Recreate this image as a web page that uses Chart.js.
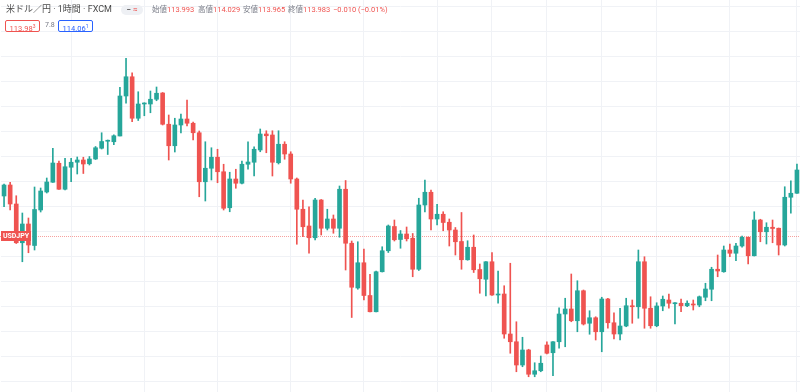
<!DOCTYPE html>
<html lang="ja">
<head>
<meta charset="utf-8">
<title>USDJPY 1H</title>
<script src="https://cdn.jsdelivr.net/npm/chart.js@4.4.1/dist/chart.umd.min.js"></script>
<style>
  html, body { margin: 0; padding: 0; background: #fff; }
  #wrap { position: relative; width: 800px; height: 392px; overflow: hidden;
          font-family: Roboto, "Noto Sans CJK JP", sans-serif; }
  #chart { position: absolute; left: 0; top: 0; }
  .ov { position: absolute; white-space: nowrap; line-height: 1; }
  .title { left: 6px; top: 5px; font-size: 9px; color: #4a4a4a; }
  .pill { left: 121px; top: 5px; width: 22px; height: 10px; border-radius: 5px;
          background: #eef0f4; font-size: 8px; text-align: center; line-height: 10px; }
  .pill .a { color: #555; font-weight: bold; }
  .pill .b { color: #ef5350; margin-left: 2px; }
  .ohlc { top: 6px; font-size: 7.5px; color: #787b86; }
  .ohlc b { font-weight: normal; color: #ef5350; }
  .box { top: 20px; height: 10px; width: 33px; border: 1px solid; border-radius: 2px;
         font-size: 7.5px; line-height: 10px; text-align: center; background: #fff; }
  .box sup { font-size: 5px; vertical-align: 3px; }
  .sell { left: 5px; color: #ef5350; border-color: #ef5350; }
  .buy { left: 58px; color: #2962ff; border-color: #2962ff; }
  .spread { left: 45px; top: 22px; font-size: 7px; color: #787b86; }
</style>
</head>
<body>
<div id="wrap">
  <canvas id="chart" width="800" height="392"></canvas>
  <div class="ov title">米ドル／円 · 1時間 · FXCM</div>
  <div class="ov pill"><span class="a">−</span><span class="b">≈</span></div>
  <div class="ov ohlc" style="left:152px">始値<b>113.993</b></div>
  <div class="ov ohlc" style="left:198px">高値<b>114.029</b></div>
  <div class="ov ohlc" style="left:243px">安値<b>113.965</b></div>
  <div class="ov ohlc" style="left:288px">終値<b>113.983</b></div>
  <div class="ov ohlc" style="left:333px"><b>−0.010 (−0.01%)</b></div>
  <div class="ov box sell">113.98<sup>3</sup></div>
  <div class="ov spread">7.8</div>
  <div class="ov box buy">114.06<sup>1</sup></div>
</div>
<script>
// hourly candles, USDJPY (FXCM)
const opens = [
  114.142, 114.186, 114.110, 113.955, 114.030, 113.944, 114.086, 114.158, 114.197, 114.273,
  114.169, 114.257, 114.277, 114.286, 114.271, 114.290, 114.333, 114.361, 114.359, 114.382,
  114.542, 114.619, 114.453, 114.510, 114.510, 114.529, 114.554, 114.429, 114.343, 114.426,
  114.450, 114.433, 114.395, 114.199, 114.253, 114.297, 114.239, 114.095, 114.210, 114.193,
  114.269, 114.277, 114.326, 114.390, 114.386, 114.275, 114.349, 114.310, 114.210, 114.089,
  114.022, 113.975, 114.126, 114.013, 114.050, 114.013, 114.169, 113.953, 113.774, 113.875,
  113.744, 113.679, 113.839, 113.923, 114.020, 113.968, 113.990, 113.973, 113.849, 114.106,
  114.157, 114.050, 114.069, 114.037, 114.006, 113.960, 113.887, 113.937, 113.848, 113.809,
  113.879, 113.746, 113.750, 113.590, 113.559, 113.466, 113.526, 113.429, 113.443, 113.546,
  113.515, 113.559, 113.670, 113.690, 113.643, 113.763, 113.633, 113.655, 113.599, 113.730,
  113.635, 113.590, 113.622, 113.703, 113.699, 113.879, 113.693, 113.623, 113.702, 113.726,
  113.711, 113.713, 113.703, 113.710, 113.706, 113.737, 113.769, 113.849, 113.839, 113.926,
  113.913, 113.942, 113.977, 113.903, 114.046, 113.999, 114.017, 114.013, 113.946, 114.137,
  114.153
];
const highs = [
  114.190, 114.197, 114.143, 114.074, 114.054, 114.178, 114.174, 114.214, 114.333, 114.282,
  114.293, 114.293, 114.298, 114.297, 114.300, 114.340, 114.395, 114.366, 114.387, 114.577,
  114.693, 114.635, 114.559, 114.515, 114.562, 114.578, 114.556, 114.466, 114.453, 114.470,
  114.526, 114.438, 114.402, 114.359, 114.335, 114.329, 114.269, 114.237, 114.249, 114.282,
  114.359, 114.339, 114.410, 114.403, 114.403, 114.403, 114.359, 114.319, 114.214, 114.126,
  114.099, 114.133, 114.128, 114.089, 114.066, 114.182, 114.204, 113.962, 113.959, 113.930,
  113.829, 113.842, 113.939, 114.026, 114.046, 114.004, 114.018, 113.992, 114.133, 114.206,
  114.166, 114.109, 114.079, 114.050, 114.016, 114.076, 113.963, 113.986, 113.870, 113.880,
  113.916, 113.842, 113.783, 113.873, 113.639, 113.577, 113.529, 113.475, 113.502, 113.559,
  113.560, 113.695, 113.733, 113.830, 113.803, 113.766, 113.683, 113.659, 113.737, 113.733,
  113.675, 113.693, 113.733, 113.726, 113.926, 113.899, 113.739, 113.715, 113.742, 113.750,
  113.716, 113.730, 113.723, 113.726, 113.742, 113.793, 113.857, 113.906, 113.942, 113.950,
  113.953, 113.982, 113.978, 114.079, 114.049, 114.035, 114.046, 114.014, 114.179, 114.203,
  114.270
];
const lows = [
  114.099, 114.086, 113.952, 113.879, 113.915, 113.926, 114.078, 114.154, 114.196, 114.168,
  114.166, 114.199, 114.230, 114.232, 114.266, 114.288, 114.330, 114.308, 114.347, 114.382,
  114.513, 114.439, 114.444, 114.463, 114.475, 114.523, 114.426, 114.286, 114.318, 114.394,
  114.422, 114.366, 114.139, 114.122, 114.206, 114.195, 114.086, 114.079, 114.173, 114.190,
  114.249, 114.222, 114.319, 114.315, 114.222, 114.270, 114.289, 114.193, 113.949, 113.979,
  113.913, 113.966, 113.986, 114.006, 113.993, 113.977, 113.846, 113.656, 113.769, 113.726,
  113.678, 113.678, 113.838, 113.916, 113.962, 113.933, 113.962, 113.819, 113.844, 114.078,
  114.006, 114.026, 114.003, 113.942, 113.906, 113.849, 113.885, 113.836, 113.753, 113.742,
  113.744, 113.713, 113.573, 113.513, 113.439, 113.459, 113.419, 113.419, 113.439, 113.510,
  113.423, 113.533, 113.539, 113.639, 113.599, 113.626, 113.589, 113.566, 113.519, 113.613,
  113.570, 113.566, 113.619, 113.633, 113.653, 113.613, 113.613, 113.619, 113.683, 113.693,
  113.630, 113.679, 113.699, 113.686, 113.699, 113.723, 113.723, 113.819, 113.837, 113.899,
  113.883, 113.937, 113.870, 113.902, 113.959, 113.950, 113.955, 113.906, 113.942, 114.073,
  114.152
];
const closes = [
  114.186, 114.110, 113.955, 114.030, 113.946, 114.088, 114.162, 114.198, 114.274, 114.169,
  114.259, 114.277, 114.286, 114.270, 114.290, 114.335, 114.360, 114.363, 114.383, 114.542,
  114.619, 114.453, 114.510, 114.514, 114.529, 114.553, 114.429, 114.343, 114.426, 114.450,
  114.433, 114.395, 114.199, 114.253, 114.297, 114.239, 114.093, 114.210, 114.193, 114.269,
  114.278, 114.329, 114.390, 114.383, 114.277, 114.349, 114.310, 114.210, 114.089, 114.019,
  113.975, 114.126, 114.013, 114.050, 114.013, 114.169, 113.953, 113.777, 113.875, 113.744,
  113.679, 113.839, 113.923, 114.022, 113.967, 113.990, 113.971, 113.849, 114.106, 114.157,
  114.050, 114.069, 114.036, 114.006, 113.959, 113.887, 113.937, 113.847, 113.811, 113.879,
  113.746, 113.750, 113.590, 113.559, 113.466, 113.526, 113.429, 113.443, 113.473, 113.513,
  113.559, 113.670, 113.690, 113.643, 113.763, 113.630, 113.655, 113.599, 113.730, 113.635,
  113.590, 113.622, 113.703, 113.699, 113.879, 113.693, 113.623, 113.702, 113.729, 113.713,
  113.715, 113.703, 113.713, 113.706, 113.739, 113.770, 113.849, 113.842, 113.926, 113.913,
  113.942, 113.977, 113.903, 114.046, 113.999, 114.017, 114.012, 113.946, 114.137, 114.153,
  114.246
];
const lastPrice = 113.983;
const yTicks = [113.4, 113.5, 113.6, 113.7, 113.8, 113.9, 114.0, 114.1, 114.2, 114.3, 114.4, 114.5, 114.6, 114.7, 114.8, 114.9];
// candles that sit on a time grid line
const timeGrid = [11, 23, 35, 47, 59, 71, 80, 89, 98, 107, 119, 130];

const times = [];
for (let i = 0; i < opens.length; i++) {
    const h = i % 24;
    times.push((h < 10 ? '0' : '') + h + ':00');
}

const UP = '#26a69a';
const DOWN = '#ef5350';
const GRID = '#f0f2f6';

const colors = opens.map((o, i) => closes[i] >= opens[i] ? UP : DOWN);

// dotted last price line + symbol tag on the left
const priceLine = {
    id: 'priceLine',
    beforeDatasetsDraw(chart) {
        const y = Math.round(chart.scales.y.getPixelForValue(lastPrice)) + 0.5;
        const c = chart.ctx;
        c.save();
        c.strokeStyle = 'rgba(239, 83, 80, 0.55)';
        c.lineWidth = 1;
        c.setLineDash([1, 1]);
        c.beginPath();
        c.moveTo(0, y);
        c.lineTo(chart.width, y);
        c.stroke();
        c.restore();
    },
    afterDraw(chart) {
        const y = Math.round(chart.scales.y.getPixelForValue(lastPrice));
        const c = chart.ctx;
        c.save();
        c.fillStyle = DOWN;
        c.fillRect(1, y - 5, 30, 10);
        c.fillStyle = '#fff';
        c.font = 'bold 7px Roboto, sans-serif';
        c.textAlign = 'center';
        c.textBaseline = 'middle';
        c.fillText('USDJPY', 16, y + 0.5);
        c.restore();
    }
};

new Chart(document.getElementById('chart'), {
    type: 'bar',
    data: {
        labels: times,
        datasets: [{
            label: 'wick',
            data: lows.map((l, i) => [l, highs[i]]),
            backgroundColor: colors,
            barThickness: 1,
            grouped: false,
            order: 2
        }, {
            label: 'body',
            data: opens.map((o, i) => [o, closes[i]]),
            backgroundColor: colors,
            barThickness: 4,
            minBarLength: 1,
            grouped: false,
            order: 1
        }]
    },
    options: {
        responsive: false,
        animation: false,
        layout: { padding: { left: 1, right: 0, top: 0, bottom: 0 } },
        plugins: {
            legend: { display: false },
            tooltip: { enabled: false }
        },
        scales: {
            x: {
                offset: true,
                grid: {
                    offset: false,
                    drawTicks: false,
                    color: ctx => timeGrid.includes(ctx.index) ? GRID : 'rgba(0,0,0,0)'
                },
                ticks: { display: false, autoSkip: false },
                border: { display: false }
            },
            y: {
                min: 113.358,
                max: 114.926,
                afterBuildTicks: axis => { axis.ticks = yTicks.map(v => ({ value: v })); },
                grid: { drawTicks: false, color: GRID },
                ticks: { display: false },
                border: { display: false }
            }
        }
    },
    plugins: [priceLine]
});
</script>
</body>
</html>
